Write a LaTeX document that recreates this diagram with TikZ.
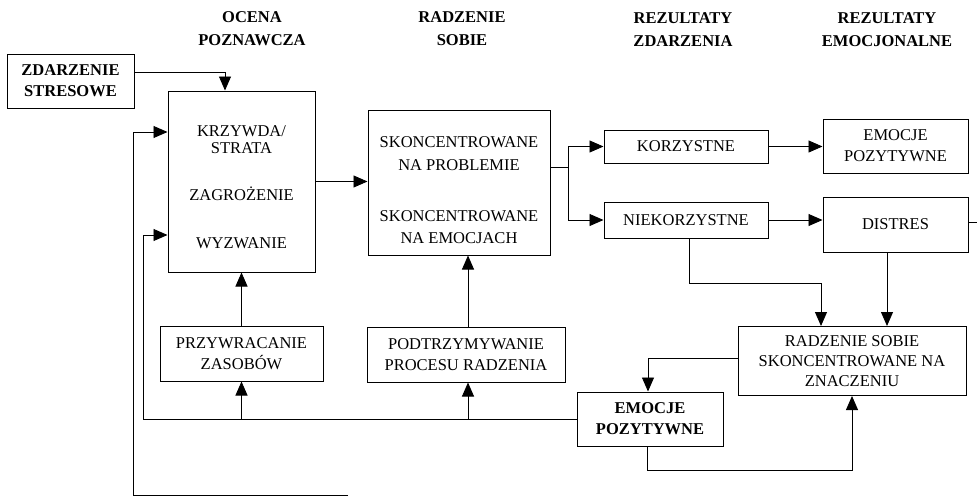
\documentclass[tikz,border=0pt]{standalone}
\usepackage{fontspec}
\setmainfont{Liberation Serif}
\usetikzlibrary{arrows.meta}

\begin{document}
\begin{tikzpicture}[
    x=1pt,y=-1pt,
    font=\fontsize{16.5}{21}\selectfont,
    box/.style={draw,rectangle,line width=1pt,inner sep=2pt,align=center},
    head/.style={align=center,font=\fontsize{16.5}{23}\selectfont\bfseries},
    line/.style={line width=0.9pt},
    arr/.style={line width=0.9pt,-{Triangle[length=14pt,width=12pt]}}
  ]
    \useasboundingbox (0,0) rectangle (977,498);

    %% column headings
    \node[head] (hOcena) at (252,29) {OCENA\\POZNAWCZA};
    \node[head] (hRadz) at (462,29) {RADZENIE\\SOBIE};
    \node[head] (hRezZd) at (683,30) {REZULTATY\\ZDARZENIA};
    \node[head] (hRezEm) at (887,30) {REZULTATY\\EMOCJONALNE};

    %% boxes
    \node[box,minimum width=127,minimum height=54,font=\fontsize{16.5}{21}\selectfont\bfseries]
      (zdarz) at (70.5,81) {ZDARZENIE\\STRESOWE};
    \node[box,minimum width=147,minimum height=181] (krzyw) at (241.5,181.5)
      {\strut\\[-13pt]KRZYWDA/\\[-4pt]STRATA\\[26pt]ZAGROŻENIE\\[27pt]WYZWANIE};
    \node[box,minimum width=182,minimum height=145] (skonc) at (459,182.5)
      {\strut\\[-9pt]SKONCENTROWANE\\[2pt]NA PROBLEMIE\\[30pt]SKONCENTROWANE\\[1pt]NA EMOCJACH};
    \node[box,minimum width=163,minimum height=55] (przyw) at (241.5,353.5)
      {PRZYWRACANIE\\ZASOBÓW};
    \node[box,minimum width=198,minimum height=55] (podtrz) at (466,354.5)
      {PODTRZYMYWANIE\\PROCESU RADZENIA};
    \node[box,minimum width=164,minimum height=33] (korz) at (686,146.5) {KORZYSTNE};
    \node[box,minimum width=164,minimum height=36] (niekorz) at (686,220) {NIEKORZYSTNE};
    \node[box,minimum width=145,minimum height=54] (emopoz) at (895.5,146)
      {EMOCJE\\POZYTYWNE};
    \node[box,minimum width=145,minimum height=55] (distres) at (895.5,224.5) {DISTRES};
    \node[box,minimum width=228,minimum height=69,font=\fontsize{16.5}{20}\selectfont]
      (znacz) at (852,361) {RADZENIE SOBIE\\SKONCENTROWANE NA\\ZNACZENIU};
    \node[box,minimum width=146,minimum height=54,font=\fontsize{16.5}{21}\selectfont\bfseries]
      (emopoz2) at (650,419) {EMOCJE\\POZYTYWNE};

    \coordinate (split) at (568,167);
    \coordinate (cut) at (348,495);
    \coordinate (rim) at (977,222);

    %% main flow
    \draw[arr] (zdarz.east |- 0,72) -| ([xshift=-16.5pt]krzyw.north);
    \draw[arr] (krzyw.east) -- (skonc.west |- krzyw.east);
    \draw[line] (skonc.east |- split) -- (split);
    \draw[arr] (split) |- (korz.west);
    \draw[arr] (split) |- (niekorz.west);
    \draw[arr] (korz.east) -- (emopoz.west |- korz.east);
    \draw[arr] (niekorz.east) -- (distres.west |- niekorz.east);
    \draw[line] (distres.east |- rim) -- (rim);

    %% into meaning-focused coping
    \draw[arr] ([xshift=3pt]niekorz.south) -- ([xshift=3pt]niekorz.south |- 0,283)
      -| ([xshift=-31pt]znacz.north);
    \draw[arr] ([xshift=-8.5pt]distres.south) -- ([xshift=-8.5pt]distres.south |- znacz.north);
    \draw[arr] (znacz.west |- 0,358) -| ([xshift=-2pt]emopoz2.north);
    \draw[arr] ([xshift=-3pt]emopoz2.south) -- ([xshift=-3pt]emopoz2.south |- 0,470)
      -| (znacz.south);

    %% feedback loops
    \draw[arr] (przyw.north) -- (krzyw.south);
    \draw[arr] ([xshift=2pt]podtrz.north) -- ([xshift=2pt]podtrz.north |- skonc.south);
    \draw[arr] (przyw.south |- emopoz2.west) -- (przyw.south);
    \draw[arr] ([xshift=2pt]podtrz.south |- emopoz2.west) -- ([xshift=2pt]podtrz.south);
    \draw[arr] (emopoz2.west) -- (143,419) |- (krzyw.west |- 0,235);
    \draw[arr] (cut) -- (133,495) |- (krzyw.west |- 0,132);
\end{tikzpicture}
\end{document}
